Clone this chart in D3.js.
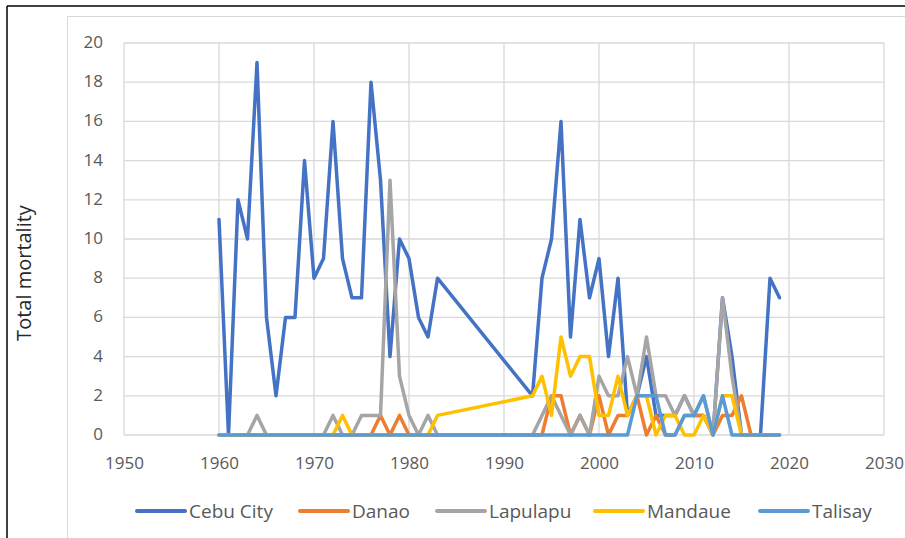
<!DOCTYPE html>
<html>
<head>
<meta charset="utf-8">
<script src="https://cdn.jsdelivr.net/npm/d3@7"></script>
<style>
  body { margin: 0; background: #fff; }
  svg text { font-family: "Open Sans", "Liberation Sans", sans-serif; fill: #595959; }
</style>
</head>
<body>
<svg id="chart" width="905" height="538"></svg>
<script>
// years present in the sheet (1984-1992 missing)
var years = [1960, 1961, 1962, 1963, 1964, 1965, 1966, 1967, 1968, 1969,
    1970, 1971, 1972, 1973, 1974, 1975, 1976, 1977, 1978, 1979,
    1980, 1981, 1982, 1983,
    1993, 1994, 1995, 1996, 1997, 1998, 1999,
    2000, 2001, 2002, 2003, 2004, 2005, 2006, 2007, 2008, 2009,
    2010, 2011, 2012, 2013, 2014, 2015, 2016, 2017, 2018, 2019]

var cebu = [11, 0, 12, 10, 19, 6, 2, 6, 6, 14,
    8, 9, 16, 9, 7, 7, 18, 13, 4, 10,
    9, 6, 5, 8,
    2, 8, 10, 16, 5, 11, 7,
    9, 4, 8, 1, 2, 4, 1, 1, 1, 2,
    1, 1, 0, 7, 4, 0, 0, 0, 8, 7]

var danao = [0, 0, 0, 0, 0, 0, 0, 0, 0, 0,
    0, 0, 0, 0, 0, 0, 0, 1, 0, 1,
    0, 0, 0, 0,
    0, 0, 2, 2, 0, 1, 0,
    2, 0, 1, 1, 2, 0, 1, 0, 0, 1,
    1, 1, 0, 1, 1, 2, 0, 0, 0, 0]

var lapulapu = [0, 0, 0, 0, 1, 0, 0, 0, 0, 0,
    0, 0, 1, 0, 0, 1, 1, 1, 13, 3,
    1, 0, 1, 0,
    0, 1, 2, 1, 0, 1, 0,
    3, 2, 2, 4, 2, 5, 2, 2, 1, 2,
    1, 2, 0, 7, 3, 0, 0, 0, 0, 0]

var mandaue = [0, 0, 0, 0, 0, 0, 0, 0, 0, 0,
    0, 0, 0, 1, 0, 0, 0, 0, 0, 0,
    0, 0, 0, 1,
    2, 3, 1, 5, 3, 4, 4,
    1, 1, 3, 1, 2, 2, 0, 1, 1, 0,
    0, 1, 0, 2, 2, 0, 0, 0, 0, 0]

var talisay = [0, 0, 0, 0, 0, 0, 0, 0, 0, 0,
    0, 0, 0, 0, 0, 0, 0, 0, 0, 0,
    0, 0, 0, 0,
    0, 0, 0, 0, 0, 0, 0,
    0, 0, 0, 0, 2, 2, 2, 0, 0, 1,
    1, 2, 0, 2, 0, 0, 0, 0, 0, 0]

var series_names = ['Cebu City', 'Danao', 'Lapulapu', 'Mandaue', 'Talisay']
var series_values = [cebu, danao, lapulapu, mandaue, talisay]
var colors = ['#4472C4', '#ED7D31', '#A5A5A5', '#FFC000', '#5B9BD5']

var x_ticks = [1950, 1960, 1970, 1980, 1990, 2000, 2010, 2020, 2030]
var y_ticks = [0, 2, 4, 6, 8, 10, 12, 14, 16, 18, 20]

var svg = d3.select('#chart')

// outer frame bits
svg.append('rect')
    .attr('x', 67.5).attr('y', 16.5)
    .attr('width', 900).attr('height', 600)
    .attr('fill', 'none').attr('stroke', '#d9d9d9')
svg.append('line')
    .attr('x1', 7).attr('y1', 6).attr('x2', 905).attr('y2', 6)
    .attr('stroke', '#000').attr('stroke-width', 1.5)
svg.append('line')
    .attr('x1', 7).attr('y1', 6).attr('x2', 7).attr('y2', 538)
    .attr('stroke', '#000').attr('stroke-width', 1.5)

var x = d3.scaleLinear().domain([1950, 2030]).range([124, 884])
var y = d3.scaleLinear().domain([0, 20]).range([435, 43])

// grid
svg.append('g')
    .selectAll('line')
    .data(y_ticks)
    .enter().append('line')
    .attr('x1', x(1950)).attr('x2', x(2030))
    .attr('y1', (d) => y(d)).attr('y2', (d) => y(d))
    .attr('stroke', '#d9d9d9').attr('stroke-width', 1.3)

svg.append('g')
    .selectAll('line')
    .data(x_ticks)
    .enter().append('line')
    .attr('x1', (d) => x(d)).attr('x2', (d) => x(d))
    .attr('y1', y(0)).attr('y2', y(20))
    .attr('stroke', '#d9d9d9').attr('stroke-width', 1.3)

// axes labels through d3 axes, domain and ticks hidden
var y_axis = svg.append('g')
    .attr('transform', 'translate(' + x(1950) + ',-1)')
    .call(d3.axisLeft(y).tickValues(y_ticks).tickSize(0).tickPadding(21))
y_axis.select('.domain').remove()
y_axis.selectAll('text').style('font-size', '17px').attr('fill', '#595959')

var x_axis = svg.append('g')
    .attr('transform', 'translate(0,' + y(0) + ')')
    .call(d3.axisBottom(x).tickValues(x_ticks).tickFormat(d3.format('d')).tickSize(0).tickPadding(22))
x_axis.select('.domain').remove()
x_axis.selectAll('text').style('font-size', '17px').attr('fill', '#595959')

svg.append('text')
    .text('Total mortality')
    .attr('transform', 'translate(31,273) rotate(-90)')
    .attr('text-anchor', 'middle')
    .style('font-size', '20px')
    .style('fill', '#262626')

// lines
var line = d3.line()
    .x((d) => x(d[0]))
    .y((d) => y(d[1]))

series_values.forEach(function (vals, i) {
    var pts = years.map((yr, j) => [yr, vals[j]])
    svg.append('path')
        .datum(pts)
        .attr('d', line)
        .attr('fill', 'none')
        .attr('stroke', colors[i])
        .attr('stroke-width', 3.5)
        .attr('stroke-linejoin', 'round')
        .attr('stroke-linecap', 'round')
})

// legend
var legend_x = [137, 300, 437, 595, 760]
var legend = svg.append('g').selectAll('g')
    .data(series_names)
    .enter().append('g')
    .attr('transform', (d, i) => 'translate(' + legend_x[i] + ',511)')

legend.append('line')
    .attr('x1', 0).attr('x2', 48)
    .attr('stroke', (d, i) => colors[i])
    .attr('stroke-width', 4)
    .attr('stroke-linecap', 'round')

legend.append('text')
    .text((d) => d)
    .attr('x', 52)
    .attr('dy', '0.35em')
    .style('font-size', '19px')
</script>
</body>
</html>
